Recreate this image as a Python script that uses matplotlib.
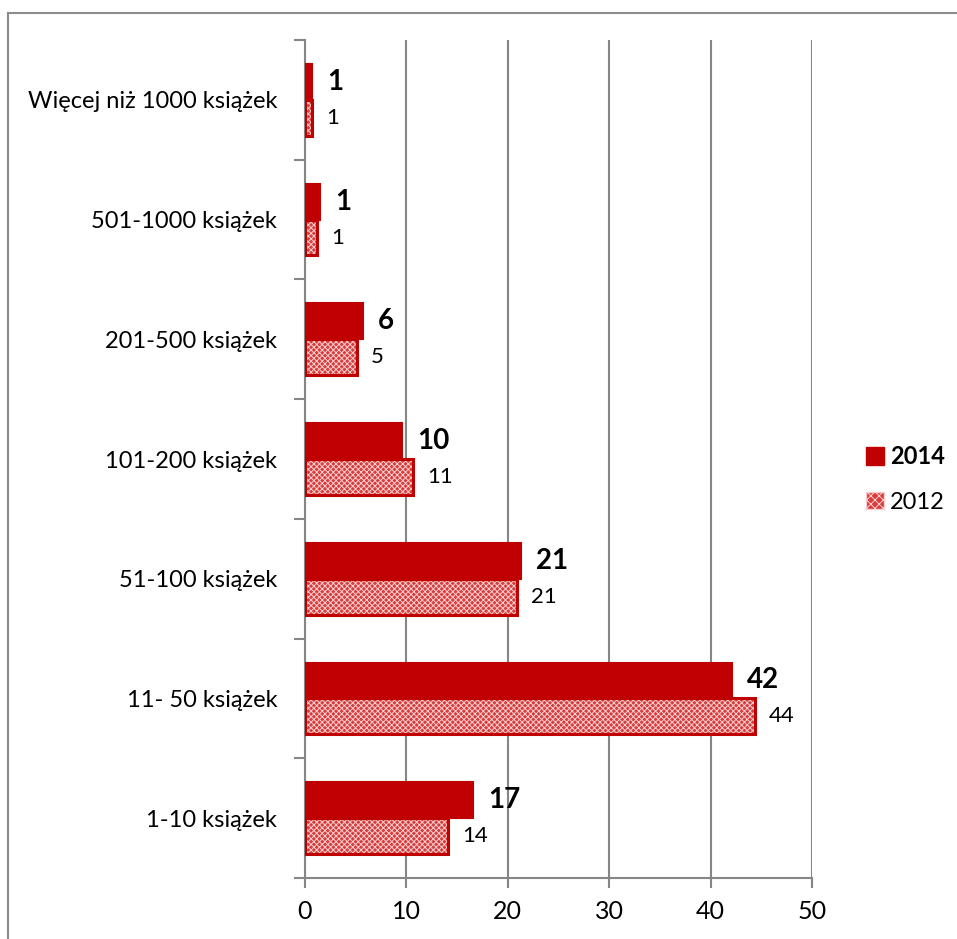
import matplotlib
matplotlib.use('Agg')
import matplotlib.pyplot as plt
from matplotlib.patches import Rectangle
import numpy as np

plt.rcParams['font.family'] = ['Lato', 'DejaVu Sans']
plt.rcParams['hatch.linewidth'] = 0.7

# data (bottom to top)
categories = ['1-10 książek', '11- 50 książek', '51-100 książek', '101-200 książek',
              '201-500 książek', '501-1000 książek', 'Więcej niż 1000 książek']
vals_2014 = [16.6, 42.1, 21.3, 9.6, 5.7, 1.5, 0.7]
vals_2012 = [14.1, 44.4, 20.9, 10.7, 5.1, 1.2, 0.7]
labels_2014 = ['17', '42', '21', '10', '6', '1', '1']
labels_2012 = ['14', '44', '21', '11', '5', '1', '1']
xticks = [0, 10, 20, 30, 40, 50]

RED = '#c00000'
PINK = '#d83c3c'
GRAY = '#868686'

fig = plt.figure(figsize=(9.57, 9.39), dpi=100)
ax = fig.add_axes([305 / 957, 61 / 939, 507 / 957, 838 / 939])

y = np.arange(len(categories))
h = 0.3

ax.barh(y + h / 2, vals_2014, height=h, color=RED, edgecolor=RED, linewidth=1.5,
        label='2014', zorder=3)
ax.barh(y - h / 2, vals_2012, height=h, color=PINK, edgecolor='#f6d0d0',
        hatch='xxxxxx', linewidth=0, zorder=3)
ax.barh(y - h / 2, vals_2012, height=h, fill=False, edgecolor=RED, linewidth=2.2,
        zorder=4)

for yi, v, t in zip(y, vals_2014, labels_2014):
    ax.annotate(t, (v, yi + h / 2), xytext=(11, 0), textcoords='offset points',
                va='center', ha='left', fontsize=20, fontweight='bold')
for yi, v, t in zip(y, vals_2012, labels_2012):
    ax.annotate(t, (v, yi - h / 2), xytext=(10, 0), textcoords='offset points',
                va='center', ha='left', fontsize=16)

ax.set_xlim(0, 50)
ax.set_ylim(-0.5, len(categories) - 0.5)
ax.set_xticks(xticks)
ax.set_xticklabels([str(t) for t in xticks], fontsize=18)
ax.set_yticks(y)
ax.set_yticklabels(categories, fontsize=17)
ax.set_yticks(np.arange(len(categories) + 1) - 0.5, minor=True)
ax.tick_params(axis='y', which='major', length=0, pad=20)
ax.tick_params(axis='y', which='minor', length=8, color=GRAY, width=1.5)
ax.tick_params(axis='x', length=7, color=GRAY, width=1.5, pad=9)

ax.grid(axis='x', color=GRAY, linewidth=1.5, zorder=0)
ax.set_axisbelow(True)
for s in ['top', 'right']:
    ax.spines[s].set_visible(False)
for s in ['left', 'bottom']:
    ax.spines[s].set_color(GRAY)
    ax.spines[s].set_linewidth(1.5)

# legend
handles = [Rectangle((0, 0), 1, 1, facecolor=RED, edgecolor=RED),
           Rectangle((0, 0), 1, 1, facecolor=PINK, edgecolor='#f6d0d0', hatch='xxxx')]
leg = fig.legend(handles, ['2014', '2012'], loc='center left',
                 bbox_to_anchor=(845 / 957, 1 - 479 / 939), frameon=False,
                 fontsize=17, handlelength=0.75, handleheight=0.75,
                 handletextpad=0.25, labelspacing=1.0)
leg.get_texts()[0].set_fontweight('bold')

# chart frame
fig.add_artist(plt.Line2D([8 / 957, 8 / 957], [0, 1 - 13 / 939],
                          transform=fig.transFigure, color='#8c8c8c', linewidth=1.5))
fig.add_artist(plt.Line2D([8 / 957, 1], [1 - 13 / 939, 1 - 13 / 939],
                          transform=fig.transFigure, color='#8c8c8c', linewidth=1.5))

fig.savefig('out.png', dpi=100)
